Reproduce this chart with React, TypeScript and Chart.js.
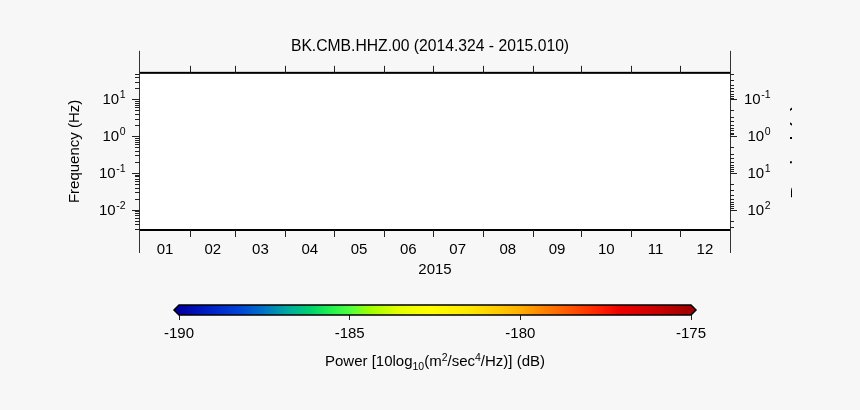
import React, { useEffect, useRef } from 'react';
import { Chart, registerables } from 'chart.js';

Chart.register(...registerables);

// ---------- data ----------
const TITLE = 'BK.CMB.HHZ.00 (2014.324 - 2015.010)';
const YEAR_LABEL = '2015';
const Y_LABEL = 'Frequency (Hz)';
const Y2_LABEL = 'Period (s)';
const MONTH_LABELS = ['01', '02', '03', '04', '05', '06', '07', '08', '09', '10', '11', '12'];
const MONTH_DAYS = [31, 28, 31, 30, 31, 30, 31, 31, 30, 31, 30, 31];
const DAYS_IN_YEAR = 365;
const FREQ_MIN = 0.0028;
const FREQ_MAX = 52.5;
const FREQ_MAJOR = [0.01, 0.1, 1, 10];
const PERIOD_MAJOR = [0.1, 1, 10, 100];
const MINOR_MULT = [2, 3, 4, 5, 6, 7, 8, 9];
const CB_MIN = -190;
const CB_MAX = -175;
const CB_TICKS = [-190, -185, -180, -175];
const CB_STOPS = [0, 0.047, 0.113, 0.164, 0.211, 0.256, 0.295, 0.334, 0.373, 0.432, 0.49, 0.568, 0.627, 0.666, 0.705, 0.764, 0.822, 0.861, 0.939, 1];
const CB_COLORS = ['#0000a0', '#0018c0', '#0040d8', '#0070c8', '#00a8a0', '#00d070', '#20f050', '#50ff40', '#a0ff00', '#e8ff00', '#ffff00', '#ffe800', '#ffc800', '#ffb000', '#ff8800', '#ff5500', '#ff2000', '#ee0000', '#c80000', '#a00000'];
const CB_LABEL_PARTS: [string, number][] = [
  ['Power [10log', 0], ['10', 1], ['(m', 0], ['2', -1], ['/sec', 0], ['4', -1], ['/Hz)] (dB)', 0],
];

const BG = '#f7f7f7';
const FONT = "'Liberation Sans', Arial, Helvetica, sans-serif";

Chart.defaults.font.family = FONT;
Chart.defaults.font.size = 15;
Chart.defaults.color = '#000';

const MONTH_START: number[] = MONTH_DAYS.reduce((a: number[], d) => { a.push(a[a.length - 1] + d); return a; }, [0]);
const MONTH_MID = MONTH_DAYS.map((d, i) => MONTH_START[i] + d / 2);

function logMinors(min: number, max: number): number[] {
  const out: number[] = [];
  for (let e = Math.floor(Math.log10(min)); e <= Math.ceil(Math.log10(max)); e++) {
    for (const m of MINOR_MULT) {
      const v = m * Math.pow(10, e);
      if (v > min && v < max) out.push(v);
    }
  }
  return out;
}

// draws "10^n" right-aligned at xEnd, vertically centred on y
function drawPow(ctx: CanvasRenderingContext2D, v: number, xEnd: number, y: number) {
  const exp = String(Math.round(Math.log10(v)));
  const big = '15px ' + FONT;
  const small = '10.5px ' + FONT;
  ctx.font = small;
  const we = ctx.measureText(exp).width;
  ctx.font = big;
  const wb = ctx.measureText('10').width;
  const x = xEnd - we - wb;
  ctx.textAlign = 'left';
  ctx.textBaseline = 'middle';
  ctx.fillText('10', x, y + 1);
  ctx.font = small;
  ctx.fillText(exp, x + wb + 0.5, y - 3.5);
}

const framePlugin = {
  id: 'specFrame',
  beforeDraw(chart: any) {
    const { ctx, chartArea: { left, top, right, bottom } } = chart;
    ctx.save();
    ctx.fillStyle = '#ffffff';
    ctx.fillRect(left, top, right - left, bottom - top);
    ctx.restore();
  },
  afterDraw(chart: any) {
    const { ctx, chartArea: { left, top, right, bottom } } = chart;
    const xs = chart.scales.x;
    const ys = chart.scales.y;
    const y2 = chart.scales.y2;
    ctx.save();
    // side lines
    ctx.fillStyle = '#333';
    ctx.fillRect(Math.round(left) - 1, top - 22, 1, bottom - top + 45);
    ctx.fillRect(Math.round(right), top - 22, 1, bottom - top + 45);
    // top / bottom frame
    ctx.fillStyle = '#000';
    ctx.fillRect(left, top - 1, right - left, 2);
    ctx.fillRect(left, bottom - 1, right - left, 2);
    // month boundary ticks
    ctx.fillStyle = '#222';
    for (let i = 1; i < MONTH_START.length - 1; i++) {
      const px = Math.round(xs.getPixelForValue(MONTH_START[i]));
      ctx.fillRect(px, top - 7, 1, 7);
      ctx.fillRect(px, bottom, 1, 7);
    }
    // left axis ticks + labels
    for (const v of logMinors(FREQ_MIN, FREQ_MAX)) {
      const py = Math.round(ys.getPixelForValue(v));
      ctx.fillRect(left - 5, py, 5, 1);
    }
    for (const v of FREQ_MAJOR) {
      const py = Math.round(ys.getPixelForValue(v));
      ctx.fillStyle = '#222';
      ctx.fillRect(left - 8, py, 8, 1);
      ctx.fillStyle = '#000';
      drawPow(ctx, v, left - 15, py);
    }
    // right axis ticks + labels
    ctx.fillStyle = '#222';
    for (const v of logMinors(1 / FREQ_MAX, 1 / FREQ_MIN)) {
      const py = Math.round(y2.getPixelForValue(v));
      ctx.fillRect(right, py, 4, 1);
    }
    for (const v of PERIOD_MAJOR) {
      const py = Math.round(y2.getPixelForValue(v));
      ctx.fillStyle = '#222';
      ctx.fillRect(right, py, 7, 1);
      ctx.fillStyle = '#000';
      drawPow(ctx, v, right + 40, py);
    }
    // clipped right-hand label (only its edge shows, as in the original)
    ctx.beginPath();
    ctx.rect(right + 50, 0, 12, chart.height);
    ctx.clip();
    ctx.translate(right + 76, (top + bottom) / 2);
    ctx.rotate(-Math.PI / 2);
    ctx.font = '22px ' + FONT;
    ctx.textAlign = 'center';
    ctx.textBaseline = 'alphabetic';
    ctx.fillStyle = '#000';
    ctx.fillText(Y2_LABEL, 0, 0);
    ctx.restore();
  },
};

const colorbarPlugin = {
  id: 'colorbar',
  afterDraw(chart: any) {
    const { ctx, chartArea: { top, bottom } } = chart;
    const xs = chart.scales.x;
    const x0 = xs.getPixelForValue(CB_MIN);
    const x1 = xs.getPixelForValue(CB_MAX);
    const mid = (top + bottom) / 2;
    ctx.save();
    const g = ctx.createLinearGradient(x0, 0, x1, 0);
    CB_STOPS.forEach((s, i) => g.addColorStop(s, CB_COLORS[i]));
    ctx.fillStyle = g;
    ctx.fillRect(x0, top, x1 - x0, bottom - top);
    // end triangles
    ctx.fillStyle = CB_COLORS[0];
    ctx.beginPath(); ctx.moveTo(x0, top); ctx.lineTo(x0 - 5, mid); ctx.lineTo(x0, bottom); ctx.closePath(); ctx.fill();
    ctx.fillStyle = CB_COLORS[CB_COLORS.length - 1];
    ctx.beginPath(); ctx.moveTo(x1, top); ctx.lineTo(x1 + 5, mid); ctx.lineTo(x1, bottom); ctx.closePath(); ctx.fill();
    // outline
    ctx.strokeStyle = '#000';
    ctx.lineWidth = 1.5;
    ctx.beginPath();
    ctx.moveTo(x0 - 5, mid); ctx.lineTo(x0, top); ctx.lineTo(x1, top); ctx.lineTo(x1 + 5, mid);
    ctx.lineTo(x1, bottom); ctx.lineTo(x0, bottom); ctx.closePath();
    ctx.stroke();
    // label with sub/superscripts
    const big = '15px ' + FONT;
    const small = '10.5px ' + FONT;
    let total = 0;
    const widths = CB_LABEL_PARTS.map(([t, k]) => { ctx.font = k === 0 ? big : small; const w = ctx.measureText(t).width; total += w; return w; });
    let x = (x0 + x1) / 2 - total / 2;
    const baseY = bottom + 51;
    ctx.fillStyle = '#000';
    ctx.textAlign = 'left';
    ctx.textBaseline = 'alphabetic';
    CB_LABEL_PARTS.forEach(([t, k], i) => {
      ctx.font = k === 0 ? big : small;
      const dy = k === 1 ? 4 : k === -1 ? -5.5 : 0;
      ctx.fillText(t, x, baseY + dy);
      x += widths[i];
    });
    ctx.restore();
  },
};

export default function App() {
  const mainRef = useRef<HTMLCanvasElement>(null);
  const cbRef = useRef<HTMLCanvasElement>(null);

  useEffect(() => {
    const main = new Chart(mainRef.current as HTMLCanvasElement, {
      type: 'scatter',
      data: { datasets: [{ data: [] }] },
      options: {
        responsive: false,
        animation: false,
        events: [],
        layout: { padding: 0 },
        plugins: {
          legend: { display: false },
          tooltip: { enabled: false },
          title: {
            display: true,
            text: TITLE,
            color: '#000',
            font: { size: 15.7, weight: 'normal' as any },
            padding: { top: 37, bottom: 17 },
          },
        },
        scales: {
          x: {
            type: 'linear',
            position: 'bottom',
            min: 0,
            max: DAYS_IN_YEAR,
            grid: { display: false, drawTicks: false },
            border: { display: false },
            afterBuildTicks: (axis: any) => { axis.ticks = MONTH_MID.map((v) => ({ value: v })); },
            afterFit: (s: any) => { s.height = 180; },
            ticks: {
              autoSkip: false,
              maxRotation: 0,
              padding: 11,
              callback: (_v: any, i: number) => MONTH_LABELS[i],
            },
            title: { display: true, text: YEAR_LABEL, padding: { top: 0, bottom: 131 } },
          },
          y: {
            type: 'logarithmic',
            position: 'left',
            min: FREQ_MIN,
            max: FREQ_MAX,
            bounds: 'data',
            grid: { display: false, drawTicks: false },
            border: { display: false },
            afterBuildTicks: (axis: any) => { axis.ticks = FREQ_MAJOR.map((v) => ({ value: v, major: true })); },
            afterFit: (s: any) => { s.width = 140; },
            ticks: { display: false, autoSkip: false },
            title: { display: true, text: Y_LABEL, padding: { top: 66, bottom: 0 } },
          },
          y2: {
            type: 'logarithmic',
            position: 'right',
            reverse: true,
            min: 1 / FREQ_MAX,
            max: 1 / FREQ_MIN,
            bounds: 'data',
            grid: { display: false, drawTicks: false },
            border: { display: false },
            afterBuildTicks: (axis: any) => { axis.ticks = PERIOD_MAJOR.map((v) => ({ value: v, major: true })); },
            afterFit: (s: any) => { s.width = 130; },
            ticks: { display: false, autoSkip: false },
          },
        },
      } as any,
      plugins: [framePlugin],
    });

    const cb = new Chart(cbRef.current as HTMLCanvasElement, {
      type: 'scatter',
      data: { datasets: [{ data: [] }] },
      options: {
        responsive: false,
        animation: false,
        events: [],
        layout: { padding: { left: 179, right: 169, top: 15, bottom: 0 } },
        plugins: { legend: { display: false }, tooltip: { enabled: false } },
        scales: {
          x: {
            type: 'linear',
            position: 'bottom',
            min: CB_MIN,
            max: CB_MAX,
            border: { display: false },
            grid: { display: true, drawOnChartArea: false, drawTicks: true, tickLength: 5, color: '#222', lineWidth: 1 },
            afterBuildTicks: (axis: any) => { axis.ticks = CB_TICKS.map((v) => ({ value: v })); },
            afterFit: (s: any) => { s.height = 95; },
            ticks: { autoSkip: false, maxRotation: 0, padding: 5, callback: (v: any) => String(v) },
          },
          y: { display: false, min: 0, max: 1 },
        },
      } as any,
      plugins: [colorbarPlugin],
    });

    return () => { main.destroy(); cb.destroy(); };
  }, []);

  return (
    <div style={{ position: 'fixed', left: 0, top: 0, width: 860, height: 410, background: BG, overflow: 'hidden' }}>
      <canvas ref={mainRef} width={860} height={410} style={{ position: 'absolute', left: 0, top: 0, width: 860, height: 410 }} />
      <canvas ref={cbRef} width={860} height={120} style={{ position: 'absolute', left: 0, top: 290, width: 860, height: 120 }} />
    </div>
  );
}
